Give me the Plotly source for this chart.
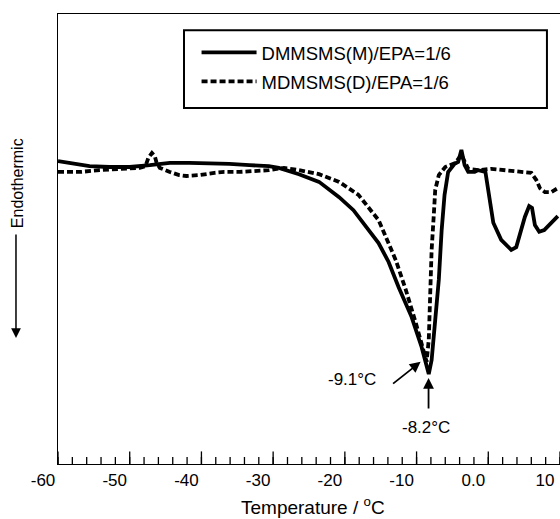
import plotly.graph_objects as go

# ---- data (temperature in °C, heat flow in arbitrary units) ----
t_m = [-60.0, -57.6, -55.6, -52.8, -50.0, -47.2, -44.4, -41.7, -38.9, -36.1, -33.3, -30.6,
       -29.2, -26.4, -23.6, -20.8, -18.8, -17.1, -15.3, -13.9, -12.5, -10.7, -9.3, -8.3,
       -7.9, -7.4, -6.9, -6.5, -6.1, -5.6, -4.7, -4.2, -3.75, -3.3, -2.8, -1.9, -1.4, -0.4,
       0.0, 0.7, 1.8, 3.2, 3.9, 4.4, 5.1, 5.7, 6.1, 6.5, 7.1, 7.8, 8.75, 9.7]
hf_m = [67.3, 66.7, 66.2, 66.0, 66.0, 66.4, 66.9, 66.9, 66.9, 66.7, 66.4, 66.2,
        65.8, 64.4, 62.7, 59.3, 56.4, 52.7, 49.1, 44.9, 39.3, 32.7, 26.0, 20.0,
        23.1, 32.0, 40.9, 52.0, 59.8, 64.9, 66.7, 67.1, 69.8, 66.4, 64.9, 64.9, 65.3, 64.9,
        60.9, 53.6, 49.8, 47.6, 48.2, 50.9, 54.9, 57.3, 56.9, 53.1, 51.6, 52.0, 53.6, 55.1]

t_d = [-60.0, -56.9, -54.2, -51.4, -48.6, -47.8, -47.4, -46.9, -46.5, -46.25, -45.8, -44.4,
       -43.1, -42.1, -40.3, -38.2, -36.8, -34.7, -32.6, -30.6, -28.5, -26.4, -23.6, -20.8,
       -18.1, -15.3, -12.9, -11.5, -10.1, -9.0, -8.6, -8.3, -8.1, -7.9, -7.6, -7.4, -6.9,
       -6.0, -4.6, -3.75, -2.8, -1.4, 0.4, 4.2, 6.0, 6.7, 7.2, 7.9, 8.75, 9.7]
hf_d = [64.9, 64.9, 65.3, 65.6, 65.8, 66.2, 68.0, 69.1, 68.4, 66.9, 65.8, 64.9,
        64.2, 64.0, 64.2, 64.7, 64.9, 64.9, 65.1, 65.3, 65.8, 65.3, 64.4, 62.7,
        59.8, 54.2, 45.3, 38.7, 31.3, 25.3, 22.7, 27.6, 38.7, 47.6, 55.3, 60.9, 64.2,
        66.0, 66.9, 68.7, 65.6, 65.3, 65.6, 65.1, 64.7, 63.1, 61.3, 60.4, 60.4, 61.3]

names = ["DMMSMS(M)/EPA=1/6", "MDMSMS(D)/EPA=1/6"]
tick_vals = [-60, -50, -40, -30, -20, -10, 0, 10]
tick_text = ["-60", "-50", "-40", "-30", "-20", "-10", "0.0", "10"]
minor_vals = list(range(-60, 11, 2))
x_range = [-60, 10]
y_range = [0, 100]

FONT = "Liberation Sans, Arial, sans-serif"

fig = go.Figure()
fig.add_trace(go.Scatter(x=t_m, y=hf_m, mode="lines", name=names[0], legendgroup="a",
                         line=dict(color="black", width=3.8)))
fig.add_trace(go.Scatter(x=t_d, y=hf_d, mode="lines", name=names[1], legendgroup="b",
                         line=dict(color="black", width=3.8, dash="6px,3px")))
# inside tick marks (half of each centred marker is clipped by the plot area)
fig.add_trace(go.Scatter(x=minor_vals, y=[y_range[0]] * len(minor_vals), mode="markers",
                         marker=dict(symbol="line-ns", size=10,
                                     line=dict(color="black", width=1.3)),
                         showlegend=False, hoverinfo="skip", cliponaxis=True))
fig.add_trace(go.Scatter(x=tick_vals, y=[y_range[0]] * len(tick_vals), mode="markers",
                         marker=dict(symbol="line-ns", size=18,
                                     line=dict(color="black", width=1.3)),
                         showlegend=False, hoverinfo="skip", cliponaxis=True))

fig.update_layout(
    width=560, height=519,
    margin=dict(l=58, r=0, t=14, b=55),
    paper_bgcolor="white", plot_bgcolor="white",
    font=dict(family=FONT, color="black", size=17),
    showlegend=True,
    legend=dict(x=0.276, y=0.956, xanchor="left", yanchor="top",
                bgcolor="rgba(0,0,0,0)", borderwidth=0,
                font=dict(size=18.5, family=FONT), itemwidth=55,
                tracegroupgap=2),
    xaxis=dict(range=x_range, showgrid=False, zeroline=False,
               showline=True, linecolor="black", linewidth=1.2, mirror=True,
               ticks="", tickmode="array", tickvals=tick_vals, ticktext=tick_text,
               ticklabelshift=-15, tickfont=dict(size=17)),
    yaxis=dict(range=y_range, showgrid=False, zeroline=False,
               showline=True, linecolor="black", linewidth=1.2, mirror=False,
               ticks="", showticklabels=False),
)

# legend frame
fig.add_shape(type="rect", xref="paper", yref="paper",
              x0=0.251, x1=0.974, y0=0.791, y1=0.964,
              line=dict(color="black", width=2), fillcolor="rgba(0,0,0,0)")

# x-axis title
fig.add_annotation(xref="paper", yref="paper", x=0.508, y=-0.094, showarrow=False,
                   text="Temperature / <sup>o</sup>C", font=dict(size=19),
                   xanchor="center", yanchor="middle")

# y-axis label with arrow
fig.add_annotation(xref="paper", yref="paper", x=-0.0817, y=0.624, showarrow=False,
                   text="Endothermic", textangle=-90, font=dict(size=16),
                   xanchor="center", yanchor="middle")
fig.add_annotation(xref="paper", yref="paper", x=-0.0837, y=0.28, text="",
                   showarrow=True, ax=0, ay=-105, arrowhead=2, arrowsize=1.3,
                   arrowwidth=1.5, arrowcolor="black")

# peak annotations
fig.add_annotation(x=-9.44, y=22.7, text="", showarrow=True, ax=-29, ay=23,
                   arrowhead=2, arrowsize=1.2, arrowwidth=1.8, arrowcolor="black")
fig.add_annotation(x=-19.0, y=18.7, text="-9.1\u00b0C", showarrow=False,
                   font=dict(size=17), xanchor="center", yanchor="middle")
fig.add_annotation(x=-8.33, y=19.1, text="", showarrow=True, ax=0, ay=32,
                   arrowhead=2, arrowsize=1.2, arrowwidth=1.8, arrowcolor="black")
fig.add_annotation(x=-8.75, y=8.2, text="-8.2\u00b0C", showarrow=False,
                   font=dict(size=17), xanchor="center", yanchor="middle")

fig.write_html("out.html")
